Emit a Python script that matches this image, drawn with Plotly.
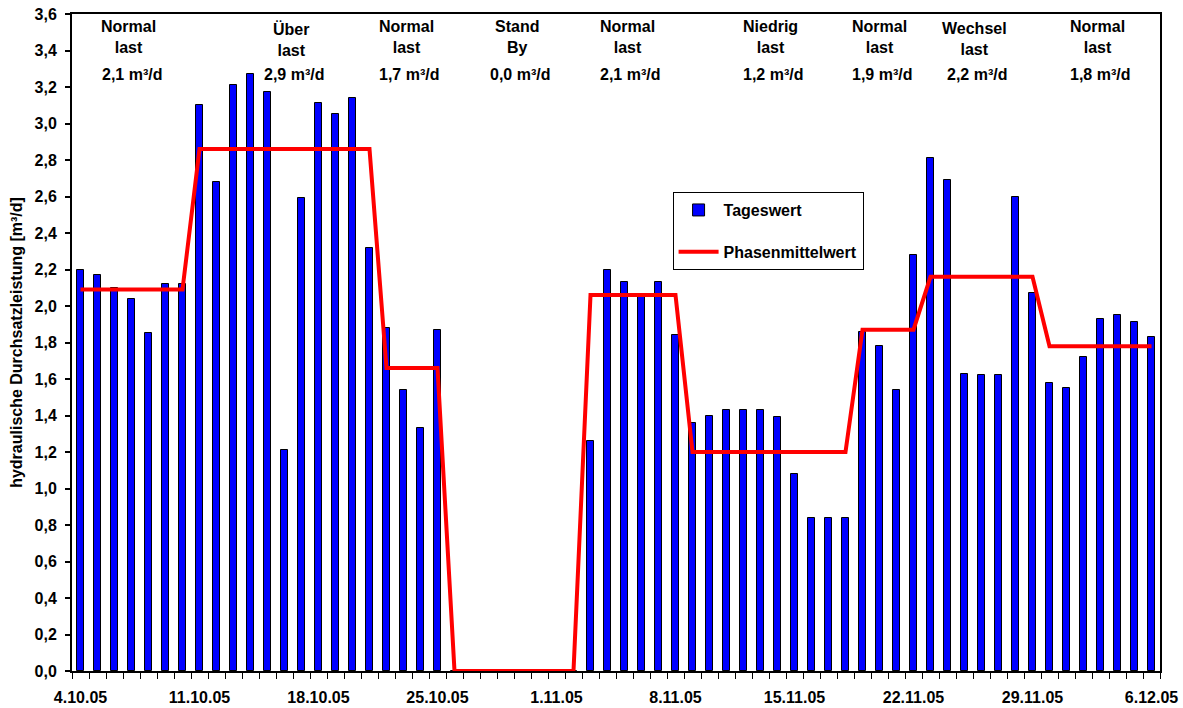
import pandas as pd
import plotly.graph_objects as go

# Daily hydraulic throughput [m³/d], 4.10.05 – 6.12.05
start_date = "2005-10-04"
tageswert = [
    2.20, 2.17, 2.10, 2.04, 1.85, 2.12, 2.12,
    3.10, 2.68, 3.21, 3.27, 3.17, 1.21, 2.59,
    3.11, 3.05, 3.14, 2.32, 1.88, 1.54, 1.33,
    1.87, 0.00, 0.00, 0.00, 0.00, 0.00, 0.00,
    0.00, 0.00, 1.26, 2.20, 2.13, 2.06, 2.13,
    1.84, 1.36, 1.40, 1.43, 1.43, 1.43, 1.39,
    1.08, 0.84, 0.84, 0.84, 1.86, 1.78, 1.54,
    2.28, 2.81, 2.69, 1.63, 1.62, 1.62, 2.60,
    2.07, 1.58, 1.55, 1.72, 1.93, 1.95, 1.91,
    1.83,
]

# Operating phases: name, first day index, last day index, phase mean [m³/d]
phase_names = ["Normal<br>last", "Über<br>last", "Normal<br>last", "Stand<br>By",
               "Normal<br>last", "Niedrig<br>last", "Normal<br>last",
               "Wechsel<br>last", "Normal<br>last"]
phase_first = [0, 7, 18, 22, 30, 36, 46, 50, 57]
phase_last = [6, 17, 21, 29, 35, 45, 49, 56, 63]
phase_mean = [2.09, 2.86, 1.66, 0.00, 2.06, 1.20, 1.87, 2.16, 1.78]

# Label placement (day-axis position) for each phase caption
label_x = [2.85, 12.4, 19.2, 25.7, 32.2, 40.6, 47.0, 52.6, 59.8]
label_name_dy = [0, 2, 0, 0, 0, 0, 0, 2, 0]

dates = pd.date_range(start_date, periods=len(tageswert), freq="D")
days = list(range(len(tageswert)))
tick_idx = days[::7]
tick_text = [f"{d.day}.{d.month}.{d:%y}" for d in dates[::7]]

# Phase mean per day for the step line
phasen = [None] * len(tageswert)
for a, b, m in zip(phase_first, phase_last, phase_mean):
    for i in range(a, b + 1):
        phasen[i] = m

FONT = "Liberation Sans, Arial, sans-serif"

fig = go.Figure()
fig.add_trace(go.Bar(
    x=days, y=tageswert, name="Tageswert", width=0.45,
    marker=dict(color="#0000FF", line=dict(color="black", width=1)),
    legendgroup="a",
))
fig.add_trace(go.Scatter(
    x=days, y=phasen, name="Phasenmittelwert", mode="lines",
    line=dict(color="#FF0000", width=4),
    legendgroup="b",
))

# Y value (data units) for a pixel row in the plot area
def y_at(px, top=14, bottom=671, ymax=3.6):
    return (bottom - px) / (bottom - top) * ymax

for name, lx, dy, m in zip(phase_names, label_x, label_name_dy, phase_mean):
    fig.add_annotation(x=lx, y=y_at(37 + dy), xref="x", yref="y", text=name,
                       showarrow=False, font=dict(family=FONT, size=16, color="black",
                                                  weight="bold"),
                       align="center")
    val = f"{m:.1f}".replace(".", ",")
    fig.add_annotation(x=lx + 0.15, y=y_at(74), xref="x", yref="y",
                       text=f"{val} m³/d", showarrow=False,
                       font=dict(family=FONT, size=16, color="black", weight="bold"))

fig.update_layout(
    width=1183, height=708,
    margin=dict(l=72, r=23, t=14, b=37),
    paper_bgcolor="white", plot_bgcolor="white",
    separators=",.",
    font=dict(family=FONT, size=16, color="black", weight="bold"),
    bargap=0,
    showlegend=True,
    legend=dict(
        x=0.552, y=0.729, xanchor="left", yanchor="top",
        bgcolor="white", bordercolor="black", borderwidth=1,
        font=dict(family=FONT, size=16, color="black", weight="bold"),
        tracegroupgap=18, itemwidth=40,
    ),
)
fig.update_xaxes(
    range=[-0.5, len(tageswert) - 0.5], automargin=False,
    tickmode="array", tickvals=tick_idx, ticktext=tick_text,
    ticks="", ticklabelstandoff=11,
    tickfont=dict(family=FONT, size=16, color="black", weight="bold"),
    showline=True, linecolor="black", linewidth=2, mirror=True,
    showgrid=False, zeroline=False,
    minor=dict(tickmode="array", tickvals=[i - 0.5 for i in range(len(tageswert) + 1)],
               ticks="outside", ticklen=6, tickwidth=1, tickcolor="black", showgrid=False),
)
fig.update_yaxes(
    range=[0, 3.6], dtick=0.2, tick0=0, tickformat=".1f", automargin=False,
    ticks="outside", ticklen=5, tickwidth=1.5, tickcolor="black",
    ticklabelstandoff=5,
    tickfont=dict(family=FONT, size=16, color="black", weight="bold"),
    showline=True, linecolor="black", linewidth=2, mirror=True,
    showgrid=False, zeroline=False,
    title=dict(text="hydraulische Durchsatzleistung [m³/d]", standoff=8,
               font=dict(family=FONT, size=16, color="black", weight="bold")),
)

fig.write_html("out.html")
